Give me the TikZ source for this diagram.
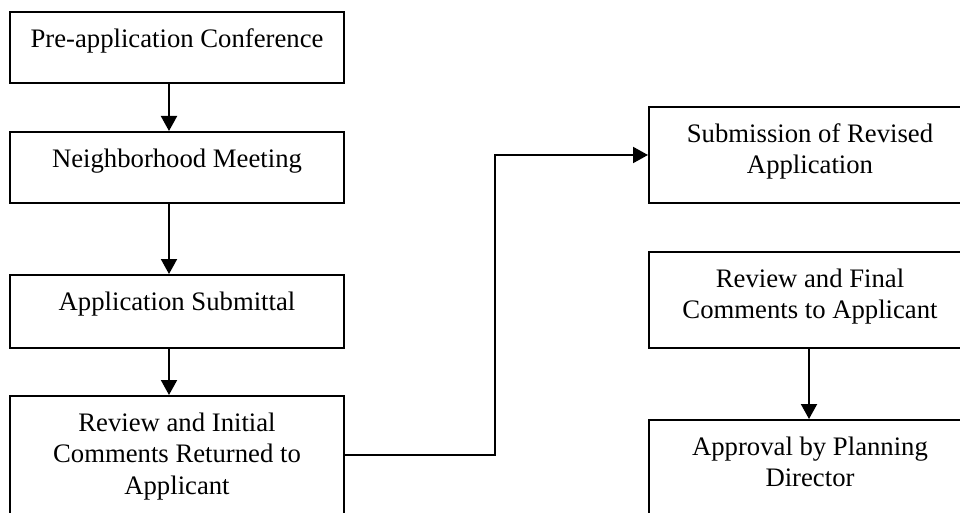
\documentclass[tikz,border=0pt]{standalone}
\usepackage{fontspec}
\setmainfont{Liberation Serif}
\usetikzlibrary{arrows.meta,calc}
\tikzset{
  box/.style={draw=black, line width=2pt, rectangle, inner sep=0pt, anchor=north west},
  txt/.style={anchor=north, inner sep=0pt, align=center, font=\fontsize{26.7}{31.5}\selectfont},
  conn/.style={draw=black, line width=2pt, -{Triangle[length=15pt,width=16pt]}},
  plainline/.style={draw=black, line width=2pt}
}
\begin{document}
\begin{tikzpicture}[x=1pt,y=-1pt]
\useasboundingbox (0,0) rectangle (960,513);
\clip (0,0) rectangle (960,513);
% left column
\node[box, minimum width=334pt, minimum height=71pt] (b1) at (9,11) {};
\node[box, minimum width=334pt, minimum height=71pt] (b2) at (9,131) {};
\node[box, minimum width=334pt, minimum height=73pt] (b3) at (9,274) {};
\node[box, minimum width=334pt, minimum height=130pt] (b4) at (9,395) {};
% right column
\node[box, minimum width=322pt, minimum height=96pt] (b5) at (648,106) {};
\node[box, minimum width=322pt, minimum height=96pt] (b6) at (648,251) {};
\node[box, minimum width=322pt, minimum height=110pt] (b7) at (648,419) {};
% texts
\node[txt] (t1) at ($(b1.north)+(0,14)$) {\strut Pre-application Conference};
\node[txt] (t2) at ($(b2.north)+(0,14)$) {\strut Neighborhood Meeting};
\node[txt] (t3) at ($(b3.north)+(0,14)$) {\strut Application Submittal};
\node[txt] (t4) at ($(b4.north)+(0,14)$) {\strut Review and Initial\\Comments Returned to\\Applicant};
\node[txt] (t5) at ($(b5.north)+(0,14)$) {\strut Submission of Revised\\Application};
\node[txt] (t6) at ($(b6.north)+(0,14)$) {\strut Review and Final\\Comments to Applicant};
\node[txt] (t7) at ($(b7.north)+(0,14)$) {\strut Approval by Planning\\Director};
% connector columns
\coordinate (cl) at (169,0);
\coordinate (cr) at (809,0);
\coordinate (j1) at (495,455);
\coordinate (j2) at (495,155);
\draw[conn] (b1.south -| cl) -- (b2.north -| cl);
\draw[conn] (b2.south -| cl) -- (b3.north -| cl);
\draw[conn] (b3.south -| cl) -- (b4.north -| cl);
\draw[conn] (b4.east |- j1) -- (j1) -- (j2) -- (b5.west |- j2);
\draw[conn] (b6.south -| cr) -- (b7.north -| cr);
\end{tikzpicture}
\end{document}
